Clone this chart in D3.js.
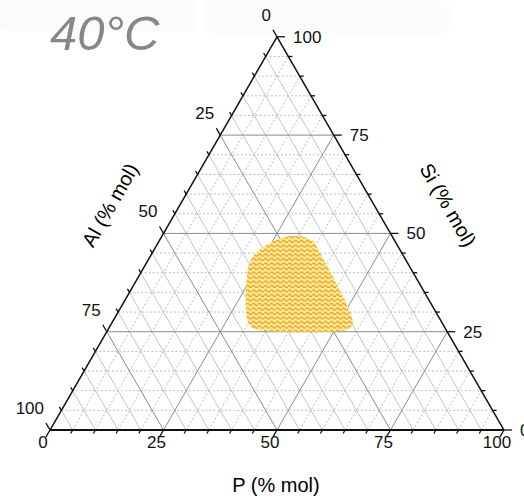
<!DOCTYPE html>
<html>
<head>
<meta charset="utf-8">
<script src="https://cdn.jsdelivr.net/npm/d3@7"></script>
<style>
  body { margin: 0; background: #fff; }
  text { font-family: "Liberation Sans", Arial, sans-serif; }
</style>
</head>
<body>
<svg id="chart"></svg>
<script>
const width = 524;
const height = 499;

// axis ticks (% mol)
const majorTicks = [0, 25, 50, 75, 100];
const minorTicks = [5, 10, 15, 20, 30, 35, 40, 45, 55, 60, 65, 70, 80, 85, 90, 95];

// region boundary (P, Si, Al in % mol)
const regionP  = [23.7, 29.1, 31.2, 33.6, 52.3, 53.3, 52.3, 37.0, 33.9, 30.4, 27.2, 24.1, 22.6];
const regionSi = [39.4, 28.5, 26.2, 25.4, 25.4, 26.4, 28.5, 45.0, 48.1, 49.3, 49.1, 47.0, 43.7];
const regionAl = [36.9, 42.4, 42.6, 41.0, 22.3, 20.3, 19.2, 18.0, 18.0, 20.3, 23.7, 28.9, 33.7];

const triLeft = 50, triRight = 504, triBase = 430;
const triSide = triRight - triLeft;
const apexY = triBase - triSide * Math.sqrt(3) / 2;

const xScale = d3.scaleLinear().domain([0, 100]).range([triLeft, triRight]);
const yScale = d3.scaleLinear().domain([0, 100]).range([triBase, apexY]);

// P along the base, Si upward; Al is what's left
function proj(p, si) {
    return [xScale(p + si / 2), yScale(si)];
}

const svg = d3.select('#chart')
    .attr('width', width)
    .attr('height', height);

// faint header bands
svg.append('rect').attr('x', 0).attr('y', 0).attr('width', 195).attr('height', 31)
    .attr('rx', 6).attr('fill', '#fbfbfb');
svg.append('rect').attr('x', 205).attr('y', 0).attr('width', 245).attr('height', 34)
    .attr('rx', 6).attr('fill', '#fcfcfc');

// fill pattern
const defs = svg.append('defs');
const pat = defs.append('pattern')
    .attr('id', 'wave')
    .attr('patternUnits', 'userSpaceOnUse')
    .attr('width', 6)
    .attr('height', 4.5);
pat.append('rect').attr('width', 6).attr('height', 4.5).attr('fill', '#ffec85');
pat.append('path')
    .attr('d', 'M0,3 Q1.5,0.8 3,3 T6,3')
    .attr('fill', 'none')
    .attr('stroke', '#e58a30')
    .attr('stroke-width', 1);

const grid = svg.append('g');

function gridLine(a, b, cls) {
    const p1 = proj(a[0], a[1]);
    const p2 = proj(b[0], b[1]);
    const g = grid.append('line')
        .attr('x1', p1[0]).attr('y1', p1[1])
        .attr('x2', p2[0]).attr('y2', p2[1]);
    if (cls === 'major') {
        g.attr('stroke', '#8c8c8c').attr('stroke-width', 1);
    } else if (cls === 'solid') {
        g.attr('stroke', '#c4c4c4').attr('stroke-width', 1);
    } else {
        g.attr('stroke', '#bdbdbd').attr('stroke-width', 1).attr('stroke-dasharray', '2,2');
    }
}

// minor grid first
minorTicks.forEach(v => {
    gridLine([0, v], [100 - v, v], 'dot');          // Si constant
    gridLine([v, 0], [v, 100 - v], 'dot');          // P constant
    gridLine([0, 100 - v], [100 - v, 0], 'solid');  // Al constant
});
[25, 50, 75].forEach(v => {
    gridLine([0, v], [100 - v, v], 'major');
    gridLine([v, 0], [v, 100 - v], 'major');
    gridLine([0, 100 - v], [100 - v, 0], 'major');
});

// region
const pts = regionP.map((p, i) => proj(p, regionSi[i]));
svg.append('path')
    .attr('d', d3.line().curve(d3.curveCatmullRomClosed.alpha(0.5))(pts))
    .attr('fill', 'url(#wave)')
    .attr('stroke', 'none');

// triangle frame
const A = proj(0, 0), B = proj(100, 0), C = proj(0, 100);
svg.append('line').attr('x1', A[0]).attr('y1', A[1]).attr('x2', B[0]).attr('y2', B[1])
    .attr('stroke', '#111').attr('stroke-width', 2);
svg.append('line').attr('x1', A[0]).attr('y1', A[1]).attr('x2', C[0]).attr('y2', C[1])
    .attr('stroke', '#111').attr('stroke-width', 1.5);
svg.append('line').attr('x1', B[0]).attr('y1', B[1]).attr('x2', C[0]).attr('y2', C[1])
    .attr('stroke', '#111').attr('stroke-width', 1.5);

// ticks
const ticks = svg.append('g').attr('stroke', '#111').attr('stroke-width', 1.3);
const s3 = Math.sqrt(3) / 2;
function tick(pt, dx, dy, len) {
    ticks.append('line')
        .attr('x1', pt[0]).attr('y1', pt[1])
        .attr('x2', pt[0] + dx * len).attr('y2', pt[1] + dy * len);
}
majorTicks.concat(minorTicks).forEach(v => {
    const len = majorTicks.includes(v) ? 8 : 4;
    tick(proj(v, 0), -0.5, s3, len);         // P, bottom
    tick(proj(100 - v, v), 1, 0, len);       // Si, right
    tick(proj(0, 100 - v), -0.5, -s3, len);  // Al, left
});

// tick labels
const labels = svg.append('g').style('font-size', '17px').attr('fill', '#111');
majorTicks.forEach(v => {
    const pb = proj(v, 0);
    labels.append('text')
        .attr('x', pb[0] - 7).attr('y', pb[1] + 18)
        .attr('text-anchor', 'middle')
        .text(v);
    const pr = proj(100 - v, v);
    labels.append('text')
        .attr('x', pr[0] + 16).attr('y', pr[1] + 6)
        .attr('text-anchor', 'start')
        .text(v);
    const pl = proj(0, 100 - v);
    labels.append('text')
        .attr('x', pl[0] - 6).attr('y', pl[1] - 16)
        .attr('text-anchor', 'end')
        .text(v);
});

// axis titles
svg.append('text')
    .attr('x', 276).attr('y', 492)
    .attr('text-anchor', 'middle')
    .style('font-size', '20px')
    .text('P (% mol)');

svg.append('text')
    .attr('transform', 'translate(110,205) rotate(-60)')
    .attr('text-anchor', 'middle')
    .attr('dy', '0.35em')
    .style('font-size', '20px')
    .text('Al (% mol)');

svg.append('text')
    .attr('transform', 'translate(448,205) rotate(60)')
    .attr('text-anchor', 'middle')
    .attr('dy', '0.35em')
    .style('font-size', '20px')
    .text('Si (% mol)');

// temperature
svg.append('text')
    .attr('x', 50).attr('y', 50)
    .style('font-size', '49px')
    .style('font-style', 'italic')
    .attr('fill', '#878787')
    .text('40°C');
</script>
</body>
</html>
